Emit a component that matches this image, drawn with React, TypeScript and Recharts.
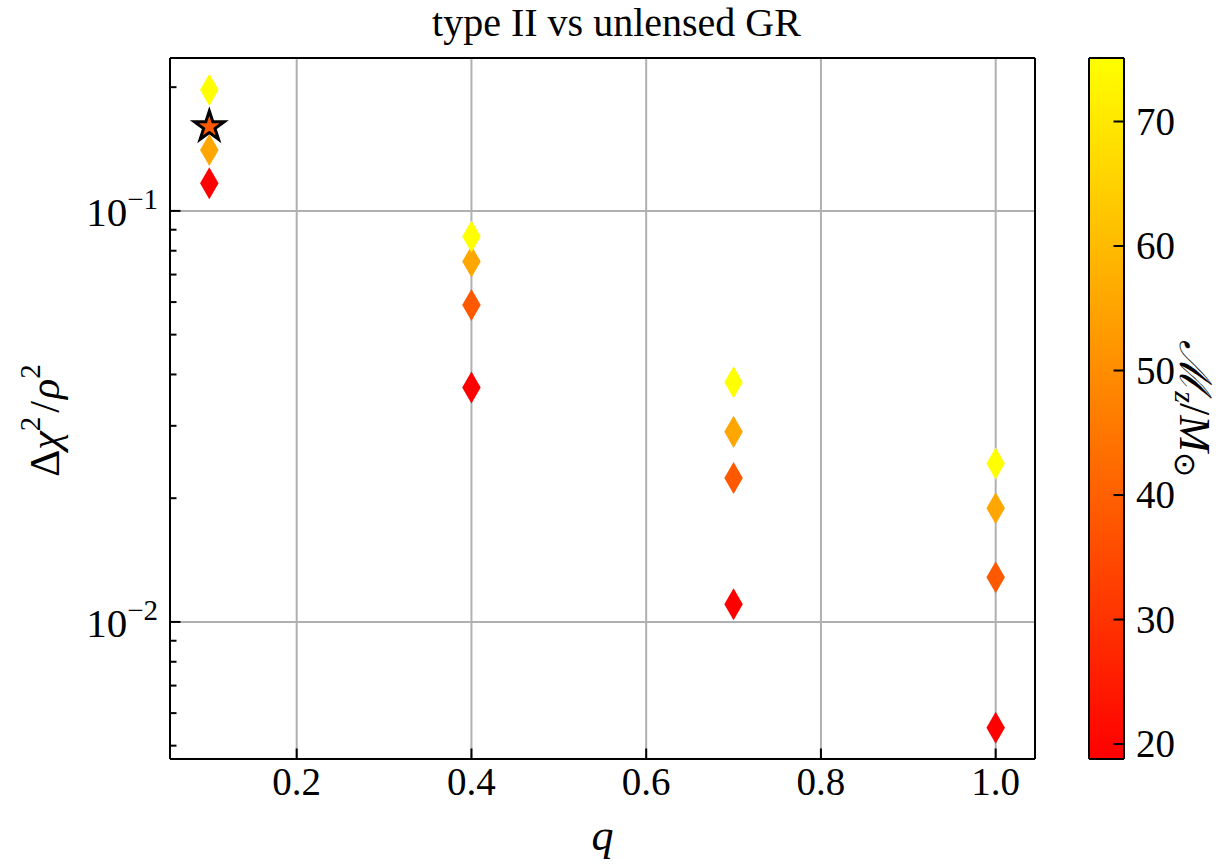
import React from 'react';
import {
  CartesianGrid,
  Scatter,
  ScatterChart,
  Symbols,
  XAxis,
  YAxis,
} from 'recharts';

const FONT = 'Liberation Serif';

// mass ratio q on the x axis, one value per column of markers
const massRatios = [0.1, 0.4, 0.7, 1.0];
// detector-frame chirp masses (colour), one per series
const chirpMasses = [18.8, 38.5, 55.4, 75.1];
// delta chi^2 / rho^2, one array per chirp mass, ordered like massRatios
const deltaChi2Mass19 = [0.1168, 0.0372, 0.01104, 0.00553];
const deltaChi2Mass38 = [0.1603, 0.059, 0.0224, 0.01285];
const deltaChi2Mass55 = [0.1407, 0.0753, 0.029, 0.0189];
const deltaChi2Mass75 = [0.197, 0.0866, 0.0383, 0.0243];
// the point drawn as a star instead of a diamond
const highlighted = { q: 0.1, massIndex: 1 };

const xTicks = [0.2, 0.4, 0.6, 0.8, 1.0];
const yTicks = [
  0.005, 0.006, 0.007, 0.008, 0.009, 0.01, 0.02, 0.03, 0.04, 0.05, 0.06, 0.07,
  0.08, 0.09, 0.1, 0.2,
];
const yGrid = [0.01, 0.1];
const colorbarTicks = [20, 30, 40, 50, 60, 70];

const xDomain: [number, number] = [0.055, 1.045];
const yDomain: [number, number] = [0.00464, 0.2355];
const cbMin = Math.min(...chirpMasses);
const cbMax = Math.max(...chirpMasses);

const autumn = (m: number) => {
  const t = (m - cbMin) / (cbMax - cbMin);
  return `rgb(255, ${Math.round(255 * t)}, 0)`;
};

const seriesValues = [
  deltaChi2Mass19,
  deltaChi2Mass38,
  deltaChi2Mass55,
  deltaChi2Mass75,
];

const series = seriesValues.map((values, i) => ({
  mass: chirpMasses[i],
  points: massRatios
    .map((q, j) => ({ q, ratio: values[j] }))
    .filter((p) => !(i === highlighted.massIndex && p.q === highlighted.q)),
}));

const starPoint = [
  {
    q: highlighted.q,
    ratio:
      seriesValues[highlighted.massIndex][massRatios.indexOf(highlighted.q)],
  },
];

// tick marks of the colour bar, placed on its right edge (x = 1)
const colorbarTickMarks = colorbarTicks.map((t) => ({ x: 1, mass: t }));

const Diamond = (props: any) => (
  <Symbols
    cx={props.cx}
    cy={props.cy}
    type='diamond'
    size={296}
    fill={props.fill}
  />
);

const Star = (props: any) => (
  <Symbols
    cx={props.cx}
    cy={props.cy}
    type='star'
    size={275}
    fill={props.fill}
    stroke='#000'
    strokeWidth={3}
    strokeLinejoin='miter'
  />
);

const InwardTick = (props: any) => (
  <line
    x1={props.cx - 10.5}
    x2={props.cx}
    y1={props.cy}
    y2={props.cy}
    stroke='#000'
    strokeWidth={2}
  />
);

const XTick = (props: any) => {
  const { x, y, payload } = props;
  return (
    <g>
      <line x1={x} x2={x} y1={y} y2={y - 10.5} stroke='#000' strokeWidth={2} />
      <text
        x={x}
        y={y + 36}
        textAnchor='middle'
        fontSize={39}
        fontFamily={FONT}
        fill='#000'
      >
        {Number(payload.value).toFixed(1)}
      </text>
    </g>
  );
};

const YTick = (props: any) => {
  const { x, y, payload } = props;
  const exp = Math.log10(payload.value);
  const isMajor = Math.abs(exp - Math.round(exp)) < 1e-6;
  return (
    <g>
      <line
        x1={x}
        x2={x + (isMajor ? 10.5 : 6.5)}
        y1={y}
        y2={y}
        stroke='#000'
        strokeWidth={2}
      />
      {isMajor && (
        <text
          x={x - 12}
          y={y + 15}
          textAnchor='end'
          fontFamily={FONT}
          fill='#000'
        >
          <tspan fontSize={41}>10</tspan>
          <tspan fontSize={29} dy={-17}>
            {'\u2212' + Math.abs(Math.round(exp))}
          </tspan>
        </text>
      )}
    </g>
  );
};

const CbTick = (props: any) => {
  const { x, y, payload } = props;
  return (
    <text
      x={x + 12}
      y={y + 13}
      textAnchor='start'
      fontSize={39}
      fontFamily={FONT}
      fill='#000'
    >
      {payload.value}
    </text>
  );
};

const TitleLabel = (props: any) => {
  const { viewBox } = props;
  return (
    <text
      x={viewBox.x + viewBox.width / 2 + 14}
      y={viewBox.y - 21}
      textAnchor='middle'
      fontSize={40}
      fontFamily={FONT}
      fill='#000'
    >
      type II vs unlensed GR
    </text>
  );
};

const XLabel = (props: any) => {
  const { viewBox } = props;
  return (
    <text
      x={viewBox.x + viewBox.width / 2}
      y={viewBox.y + 91}
      textAnchor='middle'
      fontSize={44}
      fontStyle='italic'
      fontFamily={FONT}
      fill='#000'
    >
      q
    </text>
  );
};

const YLabel = (props: any) => {
  const { viewBox } = props;
  const cx = 45;
  const cy = viewBox.y + viewBox.height / 2 + 12;
  return (
    <text
      x={cx}
      y={cy}
      transform={`rotate(-90, ${cx}, ${cy})`}
      textAnchor='middle'
      dominantBaseline='central'
      fontFamily={FONT}
      fill='#000'
      fontSize={42}
    >
      <tspan>Δ</tspan>
      <tspan fontStyle='italic'>χ</tspan>
      <tspan fontSize={29} dy={-15}>
        2
      </tspan>
      <tspan dy={15} dx={4}>
        /
      </tspan>
      <tspan fontStyle='italic' dx={2}>
        ρ
      </tspan>
      <tspan fontSize={29} dy={-15}>
        2
      </tspan>
    </text>
  );
};

const CbLabel = (props: any) => {
  const { viewBox } = props;
  const cx = viewBox.x + 71;
  const cy = viewBox.y + viewBox.height / 2;
  return (
    <text
      x={cx}
      y={cy}
      transform={`rotate(90, ${cx}, ${cy})`}
      textAnchor='middle'
      dominantBaseline='central'
      fontFamily={FONT}
      fill='#000'
      fontSize={44}
    >
      <tspan fontStyle='italic'>ℳ</tspan>
      <tspan fontSize={30} dy={9} fontStyle='italic'>
        z
      </tspan>
      <tspan dy={-9}>/</tspan>
      <tspan fontStyle='italic'>M</tspan>
      <tspan fontSize={30} dy={9}>
        ⊙
      </tspan>
    </text>
  );
};

const frameLine = { stroke: '#000', strokeWidth: 2 };

export default function App() {
  return (
    <div
      style={{
        position: 'absolute',
        left: 0,
        top: 0,
        width: 1224,
        height: 864,
        background: '#fff',
        fontFamily: FONT,
      }}
    >
      <div style={{ position: 'absolute', left: 0, top: 0 }}>
        <ScatterChart
          width={1224}
          height={864}
          margin={{ top: 57, right: 188, bottom: 45, left: 0 }}
        >
          <CartesianGrid
            horizontalValues={yGrid}
            verticalValues={xTicks}
            stroke='#b0b0b0'
            strokeWidth={2}
          />
          <XAxis
            dataKey='q'
            type='number'
            domain={xDomain}
            allowDataOverflow
            ticks={xTicks}
            interval={0}
            tickSize={0}
            tickMargin={0}
            tickLine={false}
            tick={<XTick />}
            height={60}
            axisLine={frameLine}
            label={<XLabel />}
          />
          <XAxis
            xAxisId='top'
            orientation='top'
            type='number'
            domain={xDomain}
            allowDataOverflow
            tick={false}
            tickLine={false}
            height={1}
            axisLine={frameLine}
            label={<TitleLabel />}
          />
          <YAxis
            dataKey='ratio'
            type='number'
            scale='log'
            domain={yDomain}
            allowDataOverflow
            ticks={yTicks}
            interval={0}
            tickSize={0}
            tickMargin={0}
            tickLine={false}
            tick={<YTick />}
            width={170}
            axisLine={frameLine}
            label={<YLabel />}
          />
          <YAxis
            yAxisId='right'
            orientation='right'
            type='number'
            domain={[0, 1]}
            tick={false}
            tickLine={false}
            width={1}
            axisLine={frameLine}
          />
          {series.map((s) => (
            <Scatter
              key={s.mass}
              data={s.points}
              dataKey='ratio'
              fill={autumn(s.mass)}
              shape={<Diamond />}
              isAnimationActive={false}
            />
          ))}
          <Scatter
            data={starPoint}
            dataKey='ratio'
            fill={autumn(chirpMasses[highlighted.massIndex])}
            shape={<Star />}
            isAnimationActive={false}
          />
        </ScatterChart>
      </div>

      {/* colour bar: the plot background carries the autumn gradient */}
      <div style={{ position: 'absolute', left: 1088, top: 0 }}>
        <ScatterChart
          width={136}
          height={864}
          margin={{ top: 57, right: 0, bottom: 104, left: 0 }}
        >
          <defs>
            <linearGradient id='autumnGradient' x1='0' y1='0' x2='0' y2='1'>
              <stop offset='0%' stopColor={autumn(cbMax)} />
              <stop offset='100%' stopColor={autumn(cbMin)} />
            </linearGradient>
          </defs>
          <CartesianGrid
            horizontal={false}
            vertical={false}
            fill='url(#autumnGradient)'
            fillOpacity={1}
          />
          <XAxis
            type='number'
            dataKey='x'
            domain={[0, 1]}
            allowDataOverflow
            tick={false}
            tickLine={false}
            height={1}
            axisLine={frameLine}
          />
          <XAxis
            xAxisId='cbTop'
            orientation='top'
            type='number'
            domain={[0, 1]}
            tick={false}
            tickLine={false}
            height={1}
            axisLine={frameLine}
          />
          <YAxis
            yAxisId='cbLeft'
            orientation='left'
            type='number'
            domain={[cbMin, cbMax]}
            tick={false}
            tickLine={false}
            width={1}
            axisLine={frameLine}
          />
          <YAxis
            dataKey='mass'
            type='number'
            orientation='right'
            domain={[cbMin, cbMax]}
            allowDataOverflow
            ticks={colorbarTicks}
            interval={0}
            tickSize={0}
            tickMargin={0}
            tickLine={false}
            axisLine={frameLine}
            tick={<CbTick />}
            width={100}
            label={<CbLabel />}
          />
          <Scatter
            data={colorbarTickMarks}
            dataKey='mass'
            shape={<InwardTick />}
            isAnimationActive={false}
          />
        </ScatterChart>
      </div>
    </div>
  );
}
